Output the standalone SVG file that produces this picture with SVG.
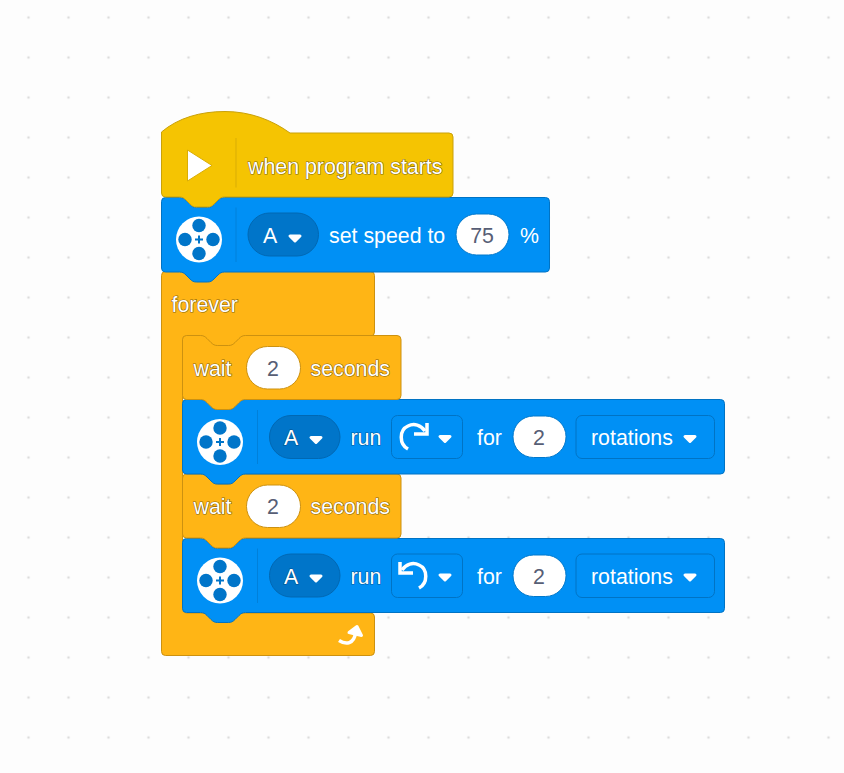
<svg xmlns="http://www.w3.org/2000/svg" width="844" height="773" viewBox="0 0 844 773">
<style>
text{font-family:"Liberation Sans",Arial,sans-serif;font-size:21.33px;fill:#fff}
.halo{paint-order:stroke;stroke:#4a3a10;stroke-width:1.2px;stroke-opacity:.7}
.haloB{paint-order:stroke;stroke:#003560;stroke-width:1.2px;stroke-opacity:.6}
.val{fill:#575e75;text-anchor:middle}
.y{fill:#f5c402;stroke:#c9a10a;stroke-width:1}
.b{fill:#0090f5;stroke:#0073c4;stroke-width:1}
.o{fill:#ffb515;stroke:#cc9110;stroke-width:1}
.pill{fill:#fff;stroke:#0078cc;stroke-width:1}
.pillO{fill:#fff;stroke:#cc9110;stroke-width:1}
.dd{fill:#0075c9;stroke:#0068b3;stroke-width:1}
.box{fill:#0090f5;stroke:#0073c4;stroke-width:1}
.sep{stroke:#0080da;stroke-width:1;fill:none}
.tri{fill:#fff;stroke:#fff;stroke-width:3;stroke-linejoin:round}
.arc{fill:none;stroke:#fff;stroke-width:3.5}
</style>
<defs>
<pattern id="dots" x="8.5" y="17.5" width="40" height="40" patternUnits="userSpaceOnUse"><circle cx="20" cy="0" r="1.3" fill="#dcdcdc"/><circle cx="20" cy="40" r="1.3" fill="#dcdcdc"/></pattern>
<g id="motor"><circle r="23" fill="#fff"/><g fill="#0075c9"><circle cy="-14" r="6.7"/><circle cy="14" r="6.7"/><circle cx="-14" r="6.7"/><circle cx="14" r="6.7"/><path d="M-1 -4H1V-1H4V1H1V4H-1V1H-4V-1H-1Z"/></g></g>
<path id="caret" d="M-5 -2.500H5L0 2.500Z"/>
</defs>
<rect width="844" height="773" fill="#fdfdfd"/>
<rect width="844" height="773" fill="url(#dots)"/>

<g id="forever">
<path class="o" d="M165.500 271.500H179.500c3 0 4.500 1 6.500 3l4 4c2 2 3.500 3 6.500 3h11c3 0 4.500 -1 6.500 -3l4 -4c2 -2 3.500 -3 6.500 -3H370.500A4 4 0 0 1 374.500 275.500V332A4 4 0 0 1 370.500 336H245.500c-3 0 -4.500 1 -6.500 3l-4 4c-2 2 -3.500 3 -6.500 3h-11c-3 0 -4.500 -1 -6.500 -3l-4 -4c-2 -2 -3.500 -3 -6.500 -3H186.500A4 4 0 0 0 182.500 340V609A4 4 0 0 0 186.500 613H370.500A4 4 0 0 1 374.500 617V651.500A4 4 0 0 1 370.500 655.500H165.500A4 4 0 0 1 161.500 651.500V275.500A4 4 0 0 1 165.500 271.500Z"/>
<text x="171.500" y="312" class="halo">forever</text>
<path class="arc" stroke-width="3" d="M339 640.500C346 645 354 644 355.500 633"/>
<path class="tri" stroke-width="2" d="M349 632.500L357 626.500L361.500 635.500Z"/>
</g>

<g id="motor-run-ccw">
<path class="b" d="M186.500 538.500H200.500c3 0 4.500 1 6.500 3l4 4c2 2 3.500 3 6.500 3h11c3 0 4.500 -1 6.500 -3l4 -4c2 -2 3.500 -3 6.500 -3H720.500A4 4 0 0 1 724.500 542.500V608.500A4 4 0 0 1 720.500 612.500H245.500c-3 0 -4.500 1 -6.500 3l-4 4c-2 2 -3.500 3 -6.500 3h-11c-3 0 -4.500 -1 -6.500 -3l-4 -4c-2 -2 -3.500 -3 -6.500 -3H186.500A4 4 0 0 1 182.500 608.500V542.500A4 4 0 0 1 186.500 538.500Z"/>
<use href="#motor" x="220" y="580.500"/>
<path class="sep" d="M257.500 548.500V603"/>
<rect class="dd" x="269.500" y="554" width="70.500" height="43" rx="21.500"/>
<text x="284" y="584" class="haloB">A</text>
<use href="#caret" class="tri" x="316" y="578.500"/>
<text x="350.500" y="584" class="haloB">run</text>
<rect class="box" x="391.500" y="554" width="71" height="43.500" rx="6"/>
<path class="arc" d="M419 588C428 583 428 569 419 565C413 562 406 564 402 570"/>
<path class="arc" d="M400 562V573H413"/>
<use href="#caret" class="tri" x="445" y="577.500"/>
<text x="477" y="584">for</text>
<rect class="pill" x="513" y="555" width="53" height="41.500" rx="20.500"/>
<text x="539" y="584" class="val">2</text>
<rect class="box" x="576" y="554" width="138.500" height="43.500" rx="6"/>
<text x="591" y="584">rotations</text>
<use href="#caret" class="tri" x="690" y="577.500"/>
</g>

<g id="wait-2">
<path class="o" d="M186.500 474H200.500c3 0 4.500 1 6.500 3l4 4c2 2 3.500 3 6.500 3h11c3 0 4.500 -1 6.500 -3l4 -4c2 -2 3.500 -3 6.500 -3H397A4 4 0 0 1 401 478V534A4 4 0 0 1 397 538H245.500c-3 0 -4.500 1 -6.500 3l-4 4c-2 2 -3.500 3 -6.500 3h-11c-3 0 -4.500 -1 -6.500 -3l-4 -4c-2 -2 -3.500 -3 -6.500 -3H186.500A4 4 0 0 1 182.500 534V478A4 4 0 0 1 186.500 474Z"/>
<text x="193.500" y="514" class="halo">wait</text>
<rect class="pillO" x="246.500" y="485" width="54" height="42.500" rx="21"/>
<text x="273" y="514" class="val">2</text>
<text x="310.500" y="514" class="halo">seconds</text>
</g>

<g id="motor-run-cw">
<path class="b" d="M186.500 399.500H200.500c3 0 4.500 1 6.500 3l4 4c2 2 3.500 3 6.500 3h11c3 0 4.500 -1 6.500 -3l4 -4c2 -2 3.500 -3 6.500 -3H720.500A4 4 0 0 1 724.500 403.500V470A4 4 0 0 1 720.500 474H245.500c-3 0 -4.500 1 -6.500 3l-4 4c-2 2 -3.500 3 -6.500 3h-11c-3 0 -4.500 -1 -6.500 -3l-4 -4c-2 -2 -3.500 -3 -6.500 -3H186.500A4 4 0 0 1 182.500 470V403.500A4 4 0 0 1 186.500 399.500Z"/>
<use href="#motor" x="220" y="442"/>
<path class="sep" d="M257.500 410V464"/>
<rect class="dd" x="269.500" y="415.500" width="70.500" height="43" rx="21.500"/>
<text x="284" y="445" class="haloB">A</text>
<use href="#caret" class="tri" x="316" y="440"/>
<text x="350.500" y="445" class="haloB">run</text>
<rect class="box" x="391.500" y="415.500" width="71" height="43" rx="6"/>
<path class="arc" d="M408 449C399 444 399 430 408 426C414 423 421 425 425 431"/>
<path class="arc" d="M427 423V434H414"/>
<use href="#caret" class="tri" x="445" y="439"/>
<text x="477" y="445">for</text>
<rect class="pill" x="513" y="416" width="53" height="41.500" rx="20.500"/>
<text x="539" y="445" class="val">2</text>
<rect class="box" x="576" y="415.500" width="138.500" height="43" rx="6"/>
<text x="591" y="445">rotations</text>
<use href="#caret" class="tri" x="690" y="439"/>
</g>

<g id="wait-1">
<path class="o" d="M186.500 335.500H200.500c3 0 4.500 1 6.500 3l4 4c2 2 3.500 3 6.500 3h11c3 0 4.500 -1 6.500 -3l4 -4c2 -2 3.500 -3 6.500 -3H397A4 4 0 0 1 401 339.500V395.500A4 4 0 0 1 397 399.500H245.500c-3 0 -4.500 1 -6.500 3l-4 4c-2 2 -3.500 3 -6.500 3h-11c-3 0 -4.500 -1 -6.500 -3l-4 -4c-2 -2 -3.500 -3 -6.500 -3H186.500A4 4 0 0 1 182.500 395.500V339.500A4 4 0 0 1 186.500 335.500Z"/>
<text x="193.500" y="376" class="halo">wait</text>
<rect class="pillO" x="246.500" y="346.500" width="54" height="42.500" rx="21"/>
<text x="273" y="376" class="val">2</text>
<text x="310.500" y="376" class="halo">seconds</text>
</g>

<g id="motor-speed">
<path class="b" d="M165.500 197.500H179.500c3 0 4.500 1 6.500 3l4 4c2 2 3.500 3 6.500 3h11c3 0 4.500 -1 6.500 -3l4 -4c2 -2 3.500 -3 6.500 -3H545.500A4 4 0 0 1 549.500 201.500V268A4 4 0 0 1 545.500 272H224.500c-3 0 -4.500 1 -6.500 3l-4 4c-2 2 -3.500 3 -6.500 3h-11c-3 0 -4.500 -1 -6.500 -3l-4 -4c-2 -2 -3.500 -3 -6.500 -3H165.500A4 4 0 0 1 161.500 268V201.500A4 4 0 0 1 165.500 197.500Z"/>
<use href="#motor" x="199" y="239.500"/>
<path class="sep" d="M236 207.500V262"/>
<rect class="dd" x="248" y="213" width="70.500" height="43" rx="21.500"/>
<text x="263" y="243">A</text>
<use href="#caret" class="tri" x="295" y="238.500"/>
<text x="329" y="243">set speed to</text>
<rect class="pill" x="456" y="214" width="53" height="41" rx="20.500"/>
<text x="482" y="243" class="val">75</text>
<text x="520" y="243">%</text>
</g>

<g id="when-program-starts">
<path class="y" d="M161.500 132C178 118 200 111.500 225 111.500C250 111.500 272 120 290 133H449A4 4 0 0 1 453 137V193A4 4 0 0 1 449 197H224.500c-3 0 -4.500 1 -6.500 3l-4 4c-2 2 -3.500 3 -6.500 3h-11c-3 0 -4.500 -1 -6.500 -3l-4 -4c-2 -2 -3.500 -3 -6.500 -3H165.500A4 4 0 0 1 161.500 193Z"/>
<path d="M187.500 150L212 165.500L187.500 181Z" fill="#fff" stroke="#d9ad05" stroke-width="1"/>
<path d="M236 138V187.500" fill="none" stroke="#d9ad05" stroke-width="1"/>
<text x="248" y="174" class="halo">when program starts</text>
</g>
</svg>
